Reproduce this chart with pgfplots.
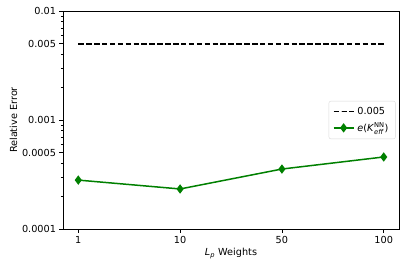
\documentclass[border=0pt]{standalone}
\usepackage{pgfplots}
\pgfplotsset{compat=1.18}
\usetikzlibrary{calc}
\usepackage{fontspec}
\setmainfont{DejaVu Sans}
\definecolor{mplgreen}{RGB}{0,128,0}
\newcommand{\sm}[1]{\mbox{\fontsize{6.7}{7}\selectfont #1}}
\begin{document}
\begin{tikzpicture}[x=1pt,y=1pt]
\begin{axis}[
  scale only axis,
  width=336pt, height=218pt,
  ymode=log,
  ymin=0.0001, ymax=0.01,
  xmin=-0.15, xmax=3.15,
  xtick={0,1,2,3},
  xticklabels={1,10,50,100},
  ytick={0.0001,0.0005,0.001,0.005,0.01},
  yticklabels={0.0001,0.0005,0.001,0.005,0.01},
  minor ytick={0.0002,0.0003,0.0004,0.0006,0.0007,0.0008,0.0009,0.002,0.003,0.004,0.006,0.007,0.008,0.009},
  tick align=outside,
  tick pos=left,
  major tick length=3.5pt,
  minor tick length=2pt,
  tick style={black, line width=0.8pt},
  minor tick style={line width=0.6pt},
  axis line style={line width=0.8pt},
  tick label style={font=\fontsize{9.7}{11}\selectfont},
  /pgf/number format/assume math mode=true,
  xlabel={\textit{L}$_{\sm{\textit{p}}}$ Weights},
  ylabel={Relative Error},
  label style={font=\fontsize{9.7}{11}\selectfont},
  xlabel style={yshift=2pt},
  ylabel style={yshift=-2pt},
  legend style={at={(0.99,0.5)}, anchor=east, draw=black!15, rounded corners=2pt,
    font=\fontsize{9.7}{11}\selectfont, row sep=3pt, inner xsep=4pt, inner ysep=4pt,
    nodes={inner xsep=3pt}},
  legend image code/.code={
    \draw[mark repeat=2,mark phase=2,#1] plot coordinates {(0pt,0pt) (10pt,0pt) (20pt,0pt)};
  },
  legend cell align=left,
  clip=false,
]
\addplot[black, line width=1.5pt, dash pattern=on 5.5pt off 2.4pt] coordinates {(0,0.005) (1,0.005) (2,0.005) (3,0.005)};
\addlegendentry{0.005}
\addplot[mplgreen, line width=1.5pt, mark=diamond*, mark size=3.5pt, mark options={solid, fill=mplgreen}] coordinates {(0,0.000281) (1,0.000233) (2,0.000355) (3,0.000458)};
\addlegendentry{\textit{e}(\textit{K}$^{\sm{NN}}_{\sm{\textit{eff}}}$)}
\path[use as bounding box] ($(rel axis cs:0,0)+(-63pt,-42pt)$) rectangle ($(rel axis cs:1,1)+(5pt,11pt)$);
\end{axis}
\end{tikzpicture}
\end{document}
